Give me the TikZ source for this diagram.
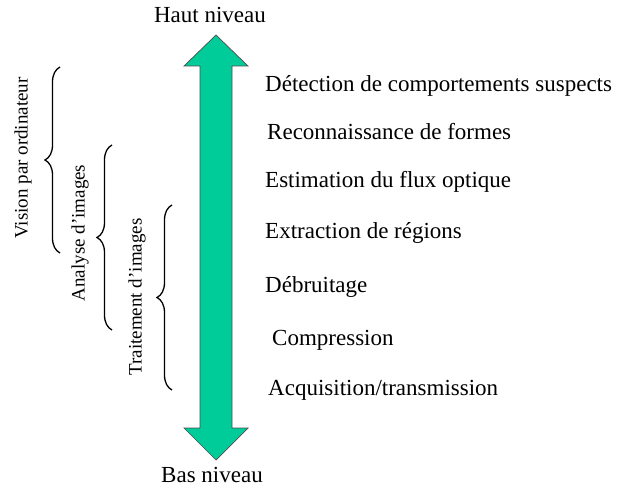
\documentclass[tikz,border=0pt]{standalone}
\usepackage{fontspec}
\setmainfont{Liberation Serif}
\usepackage{xcolor}
\usetikzlibrary{decorations.pathreplacing,positioning}
\definecolor{flechevert}{RGB}{0,204,153}

\begin{document}
\begin{tikzpicture}[
    x=1pt, y=-1pt,
    niveau/.style={anchor=base west, inner sep=0pt, font=\fontsize{23}{27}\selectfont},
    borne/.style={anchor=base, inner sep=0pt, font=\fontsize{23}{27}\selectfont},
    domaine/.style={rotate=90, inner sep=0pt, font=\fontsize{19}{23}\selectfont},
    accolade/.style={decorate, decoration={brace, amplitude=15pt}, line width=1.3pt}
]
\useasboundingbox (0,0) rectangle (626,489);

% double arrow
\draw[fill=flechevert, draw=black!70, line width=0.7pt]
    (216,35) -- (248,66) -- (232,66) -- (232,428) -- (248,428) -- (216,460)
    -- (184,428) -- (200,428) -- (200,66) -- (184,66) -- cycle;
\node[borne] (haut) at (210,23) {Haut niveau};
\node[borne] (bas) at (212,482) {Bas niveau};

% levels
\node[niveau] (detect) at (265,92) {Détection de comportements suspects};
\node[niveau] (formes) at (267,140) {Reconnaissance de formes};
\node[niveau] (flux) at (265,188) {Estimation du flux optique};
\node[niveau] (regions) at (265,238) {Extraction de régions};
\node[niveau] (debruit) at (265,292) {Débruitage};
\node[niveau] (compr) at (272,345) {Compression};
\node[niveau] (acqui) at (268,395) {Acquisition/transmission};

% braces
\draw[accolade] (60,253) -- (60,67);
\draw[accolade] (112,330) -- (112,145);
\draw[accolade] (172,390) -- (172,205);
\node[domaine] (vision) at (23,158) {Vision par ordinateur};
\node[domaine] (analyse) at (80,233) {Analyse d’images};
\node[domaine] (traitement) at (137,297) {Traitement d’images};
\end{tikzpicture}
\end{document}
